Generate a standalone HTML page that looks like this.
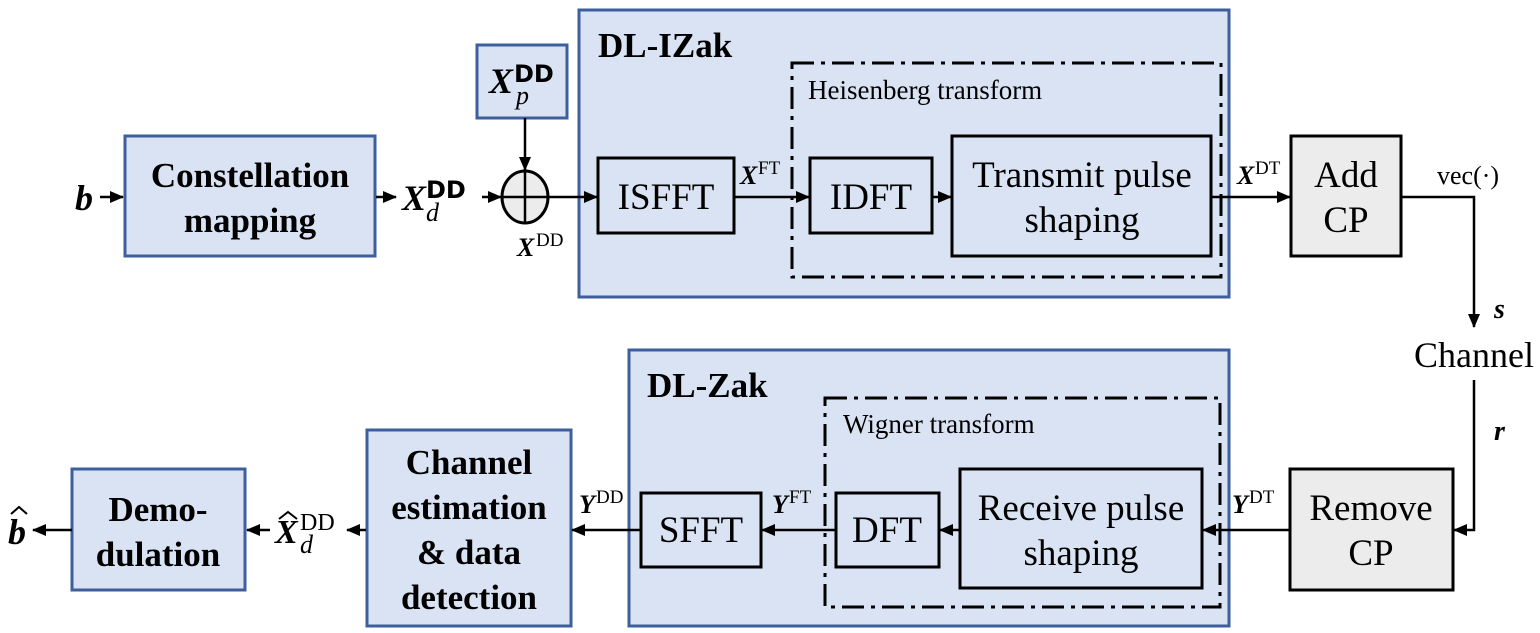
<!DOCTYPE html>
<html><head><meta charset="utf-8"><style>
html,body{margin:0;padding:0;background:#fff;}
svg{display:block;}
text{font-family:"Liberation Serif",serif;fill:#000;}
.b{font-weight:bold;}
.i{font-style:italic;font-weight:bold;}
</style></head><body>
<svg width="1540" height="633" viewBox="0 0 1540 633" xmlns="http://www.w3.org/2000/svg">
<defs>
<marker id="a" markerWidth="14" markerHeight="12" refX="13" refY="6" orient="auto" markerUnits="userSpaceOnUse">
<path d="M0,0 L14,6 L0,12 z" fill="#000"/></marker>
</defs>
<g fill="#dae3f3" stroke="#3d5f9e" stroke-width="3">
<rect x="579" y="10" width="650" height="287"/>
<rect x="629" y="350" width="600" height="276"/>
<rect x="125" y="136" width="250" height="120"/>
<rect x="477" y="45" width="90" height="73"/>
<rect x="367" y="430" width="204" height="196"/>
<rect x="72" y="469" width="173" height="121"/>
</g>
<g fill="none" stroke="#000" stroke-width="3" stroke-dasharray="22,7,4,7">
<rect x="792" y="63" width="429" height="214"/>
<rect x="825" y="398" width="395" height="209"/>
</g>
<g fill="#dae3f3" stroke="#000" stroke-width="3">
<rect x="598" y="158" width="136" height="75"/>
<rect x="810" y="158" width="122" height="75"/>
<rect x="952" y="136" width="259" height="120"/>
<rect x="641" y="493" width="120" height="74"/>
<rect x="836" y="493" width="103" height="74"/>
<rect x="960" y="469" width="242" height="119"/>
</g>
<g fill="#ececec" stroke="#000" stroke-width="3">
<rect x="1291" y="136" width="110" height="120"/>
<rect x="1290" y="469" width="163" height="121"/>
<ellipse cx="525" cy="197" rx="23" ry="26"/>
</g>
<g stroke="#000" stroke-width="2.5" fill="none">
<line x1="525" y1="171" x2="525" y2="223"/>
<line x1="502" y1="197" x2="548" y2="197"/>
<line x1="100" y1="197" x2="123" y2="197" marker-end="url(#a)"/>
<line x1="376" y1="197" x2="396" y2="197" marker-end="url(#a)"/>
<line x1="482" y1="197" x2="501" y2="197" marker-end="url(#a)"/>
<line x1="525" y1="118" x2="525" y2="170" marker-end="url(#a)"/>
<line x1="548" y1="197" x2="597" y2="197" marker-end="url(#a)"/>
<line x1="734" y1="197" x2="809" y2="197" marker-end="url(#a)"/>
<line x1="932" y1="197" x2="951" y2="197" marker-end="url(#a)"/>
<line x1="1211" y1="197" x2="1290" y2="197" marker-end="url(#a)"/>
<polyline points="1401,197 1474,197 1474,327" marker-end="url(#a)"/>
<polyline points="1474,380 1474,530 1454,530" marker-end="url(#a)"/>
<line x1="1290" y1="530" x2="1203" y2="530" marker-end="url(#a)"/>
<line x1="960" y1="530" x2="940" y2="530" marker-end="url(#a)"/>
<line x1="836" y1="530" x2="762" y2="530" marker-end="url(#a)"/>
<line x1="641" y1="530" x2="572" y2="530" marker-end="url(#a)"/>
<line x1="366" y1="530" x2="347" y2="530" marker-end="url(#a)"/>
<line x1="270" y1="530" x2="247" y2="530" marker-end="url(#a)"/>
<line x1="72" y1="530" x2="33" y2="530" marker-end="url(#a)"/>
</g>
<g font-size="37" text-anchor="middle">
<text x="250" y="187" class="b" font-size="35">Constellation</text>
<text x="250" y="232" class="b" font-size="35">mapping</text>
<text x="666" y="209">ISFFT</text>
<text x="871" y="209">IDFT</text>
<text x="1082" y="187">Transmit pulse</text>
<text x="1082" y="232">shaping</text>
<text x="1346" y="187">Add</text>
<text x="1346" y="232">CP</text>
<text x="1474" y="367" font-size="36">Channel</text>
<text x="1371" y="520">Remove</text>
<text x="1371" y="565">CP</text>
<text x="1081" y="520">Receive pulse</text>
<text x="1081" y="565">shaping</text>
<text x="887" y="542">DFT</text>
<text x="701" y="542">SFFT</text>
<text x="469" y="474" class="b" font-size="35">Channel</text>
<text x="469" y="519" class="b" font-size="35">estimation</text>
<text x="469" y="564" class="b" font-size="35">&amp; data</text>
<text x="469" y="609" class="b" font-size="35">detection</text>
<text x="158" y="521" class="b" font-size="35">Demo-</text>
<text x="158" y="566" class="b" font-size="35">dulation</text>
</g>
<text x="598" y="57" font-size="35" class="b">DL-IZak</text>
<text x="647" y="397" font-size="35" class="b">DL-Zak</text>
<text x="808" y="99" font-size="27">Heisenberg transform</text>
<text x="843" y="433" font-size="27">Wigner transform</text>
<text x="1437" y="184" font-size="26">vec(·)</text>
<text x="1494" y="318" font-size="28" class="i">s</text>
<text x="1494" y="440" font-size="28" class="i">r</text>
<text x="75" y="210" font-size="36" class="i">b</text>
<text x="8" y="544" font-size="36" class="i">b</text>
<path d="M11,514 L19,507 L27,514" stroke="#000" stroke-width="2" fill="none"/>
<text x="402" y="210" font-size="36" class="i">X</text>
<text x="426" y="198" font-size="24" style="font-weight:bold;font-family:'DejaVu Sans',sans-serif">DD</text>
<text x="426" y="221" font-size="26" font-style="italic">d</text>
<text x="489" y="93" font-size="36" class="i">X</text>
<text x="514" y="82" font-size="24" style="font-weight:bold;font-family:'DejaVu Sans',sans-serif">DD</text>
<text x="516" y="104" font-size="26" font-style="italic">p</text>
<text x="517" y="256" font-size="26" class="i">X</text><text x="536" y="246" font-size="19">DD</text>
<text x="740" y="184" font-size="26" class="i">X</text><text x="758" y="174" font-size="19">FT</text>
<text x="1237" y="184" font-size="26" class="i">X</text><text x="1255" y="174" font-size="19">DT</text>
<text x="1232" y="513" font-size="26" class="i">Y</text><text x="1249" y="503" font-size="19">DT</text>
<text x="772" y="513" font-size="26" class="i">Y</text><text x="789" y="503" font-size="19">FT</text>
<text x="579" y="513" font-size="26" class="i">Y</text><text x="596" y="503" font-size="19">DD</text>
<text x="275" y="543" font-size="34" class="i">X</text>
<path d="M279,519 L288,512 L297,519" stroke="#000" stroke-width="2" fill="none"/>
<text x="300" y="530" font-size="24">DD</text>
<text x="300" y="553" font-size="26" font-style="italic">d</text>
</svg>
</body></html>
